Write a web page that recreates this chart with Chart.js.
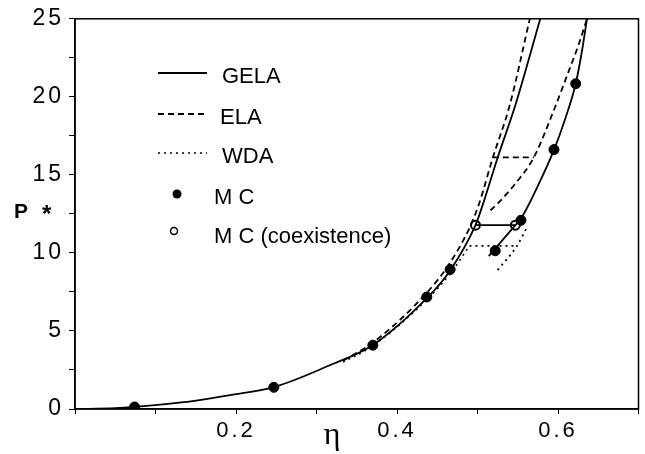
<!DOCTYPE html>
<html>
<head>
<meta charset="utf-8">
<script src="https://cdn.jsdelivr.net/npm/chart.js@4.4.1/dist/chart.umd.min.js"></script>
<style>
    html, body { margin: 0; padding: 0; background: #fff; }
    #wrap { width: 645px; height: 454px; position: relative; }
</style>
</head>
<body>
<div id="wrap"><canvas id="eosChart"></canvas></div>
<script>
// GELA (solid) - fluid and solid branches
const gelaFluidEta = [0, 0.05, 0.074, 0.146, 0.191, 0.247, 0.315, 0.370, 0.437, 0.465, 0.4975, 0.507, 0.525, 0.547, 0.578];
const gelaFluidP   = [0, 0.05, 0.13, 0.5, 0.88, 1.4, 2.77, 4.1, 7.1, 8.8, 11.78, 13.16, 16.1, 19.46, 25];
const gelaSolidEta = [0.514, 0.547, 0.554, 0.575, 0.595, 0.609, 0.622, 0.630, 0.636];
const gelaSolidP   = [9.8, 11.78, 12.2, 14.3, 16.6, 18.6, 20.84, 23.0, 25];
const gelaTieEta = [0.4975, 0.547];
const gelaTieP   = [11.78, 11.78];

// ELA (dashed)
const elaFluidEta = [0.333, 0.370, 0.437, 0.465, 0.490, 0.502, 0.519, 0.540, 0.565];
const elaFluidP   = [3.09, 4.25, 7.45, 9.3, 11.6, 13.16, 16.1, 19.46, 25];
const elaSolidEta = [0.516, 0.525, 0.548, 0.570, 0.596, 0.613, 0.626, 0.636];
const elaSolidP   = [12.72, 13.16, 14.5, 16.12, 19.3, 21.6, 23.4, 25];
const elaTieEta = [0.519, 0.570];
const elaTieP   = [16.12, 16.12];

// WDA (dotted)
const wdaFluidEta = [0.333, 0.370, 0.437, 0.465, 0.490];
const wdaFluidP   = [3.0, 4.05, 7.0, 8.6, 10.45];
const wdaSolidEta = [0.525, 0.549, 0.562];
const wdaSolidP   = [8.9, 10.45, 11.7];
const wdaTieEta = [0.490, 0.549];
const wdaTieP   = [10.45, 10.45];

// Monte Carlo
const mcEta = [0.074, 0.247, 0.370, 0.437, 0.466, 0.522, 0.554, 0.595, 0.622];
const mcP   = [0.13, 1.39, 4.09, 7.18, 8.94, 10.14, 12.09, 16.62, 20.84];
const mcCoexEta = [0.4975, 0.547];
const mcCoexP   = [11.78, 11.78];

// Axis ticks
const xTickStep = 0.1;
const xLabels = [0.2, 0.4, 0.6];
const yTickStep = 2.5;
const yLabels = [0, 5, 10, 15, 20, 25];

const pts = (xs, ys) => xs.map((x, i) => ({ x: x, y: ys[i] }));

const FONT = "'Liberation Sans', Arial, sans-serif";
const DASH = [6, 4];
const DOT = [2, 4];

function line(data, dash, width, smooth) {
    return {
        type: 'scatter',
        data: data,
        showLine: true,
        borderColor: '#000',
        borderWidth: width,
        borderDash: dash,
        pointRadius: 0,
        fill: false,
        cubicInterpolationMode: smooth ? 'monotone' : 'default',
        tension: 0
    };
}

// Frame, axis titles and legend drawn on top of the chart
const decorations = {
    id: 'decorations',
    beforeDraw(chart) {
        // wider spacing for the tick labels, like the original
        chart.ctx.letterSpacing = '3px';
    },
    afterDraw(chart) {
        const { ctx, chartArea } = chart;
        ctx.letterSpacing = '0px';
        ctx.save();
        ctx.strokeStyle = '#000';
        ctx.lineWidth = 1.5;
        ctx.setLineDash([]);
        ctx.strokeRect(chartArea.left, chartArea.top, chartArea.right - chartArea.left, chartArea.bottom - chartArea.top);

        // axis titles
        ctx.fillStyle = '#000';
        ctx.font = "32px 'Liberation Serif', 'DejaVu Serif', serif";
        ctx.textAlign = 'center';
        ctx.textBaseline = 'alphabetic';
        ctx.fillText('η', 332, 444);
        ctx.font = "bold 21px " + FONT;
        ctx.textAlign = 'left';
        ctx.fillText('P', 14, 218);
        ctx.font = "bold 24px " + FONT;
        ctx.fillText('*', 42, 222);

        // legend
        const items = [
            { label: 'GELA', dash: [], y: 77, tx: 222 },
            { label: 'ELA', dash: DASH, y: 118, tx: 220 },
            { label: 'WDA', dash: DOT, y: 157, tx: 222 }
        ];
        ctx.font = "22px " + FONT;
        ctx.textBaseline = 'middle';
        items.forEach(it => {
            ctx.beginPath();
            ctx.setLineDash(it.dash);
            ctx.lineWidth = it.dash === DOT ? 1.5 : 1.8;
            ctx.moveTo(158, it.y - 4);
            ctx.lineTo(207, it.y - 4);
            ctx.stroke();
            ctx.fillText(it.label, it.tx, it.y);
        });
        ctx.setLineDash([]);
        ctx.beginPath();
        ctx.arc(177, 194, 4.5, 0, Math.PI * 2);
        ctx.fill();
        ctx.fillText('M C', 214, 198);
        ctx.beginPath();
        ctx.lineWidth = 1.5;
        ctx.arc(174, 231, 3.5, 0, Math.PI * 2);
        ctx.stroke();
        ctx.fillText('M C (coexistence)', 214, 237);
        ctx.restore();
    }
};

const ctx = document.getElementById('eosChart').getContext('2d');
new Chart(ctx, {
    type: 'scatter',
    data: {
        datasets: [
            line(pts(gelaFluidEta, gelaFluidP), [], 1.8, true),
            line(pts(gelaSolidEta, gelaSolidP), [], 1.8, true),
            line(pts(gelaTieEta, gelaTieP), [], 1.8, false),
            line(pts(elaFluidEta, elaFluidP), DASH, 1.8, true),
            line(pts(elaSolidEta, elaSolidP), DASH, 1.8, true),
            line(pts(elaTieEta, elaTieP), DASH, 1.8, false),
            line(pts(wdaFluidEta, wdaFluidP), DOT, 1.5, true),
            line(pts(wdaSolidEta, wdaSolidP), DOT, 1.8, true),
            line(pts(wdaTieEta, wdaTieP), DOT, 1.8, false),
            {
                data: pts(mcEta, mcP),
                pointRadius: 5,
                pointBackgroundColor: '#000',
                pointBorderColor: '#000',
                showLine: false
            },
            {
                data: pts(mcCoexEta, mcCoexP),
                pointRadius: 4.5,
                pointBackgroundColor: '#fff',
                pointBorderColor: '#000',
                pointBorderWidth: 2,
                showLine: false
            }
        ]
    },
    options: {
        responsive: true,
        maintainAspectRatio: false,
        animation: false,
        layout: { padding: { left: 0, right: 2, top: 12, bottom: 0 } },
        plugins: {
            legend: { display: false },
            tooltip: { enabled: false }
        },
        scales: {
            x: {
                type: 'linear',
                min: 0,
                max: 0.7,
                afterFit(scale) { scale.height = 45; },
                grid: { drawOnChartArea: false, drawTicks: true, tickLength: 5, color: '#000' },
                border: { display: true, color: '#000', width: 1.5 },
                ticks: {
                    stepSize: xTickStep,
                    color: '#000',
                    padding: 4,
                    maxRotation: 0,
                    autoSkip: false,
                    font: { family: FONT, size: 22 },
                    callback: function(value) {
                        const hit = xLabels.find(v => Math.abs(v - value) < 1e-6);
                        return hit !== undefined ? hit.toFixed(1) : '';
                    }
                }
            },
            y: {
                type: 'linear',
                min: 0,
                max: 25,
                afterFit(scale) { scale.width = 75; },
                grid: { drawOnChartArea: false, drawTicks: true, tickLength: 6, color: '#000' },
                border: { display: true, color: '#000', width: 1.5 },
                ticks: {
                    stepSize: yTickStep,
                    color: '#000',
                    padding: 5,
                    autoSkip: false,
                    font: { family: FONT, size: 23 },
                    callback: function(value) {
                        return yLabels.includes(value) ? String(value) : '';
                    }
                }
            }
        }
    },
    plugins: [decorations]
});
</script>
</body>
</html>
